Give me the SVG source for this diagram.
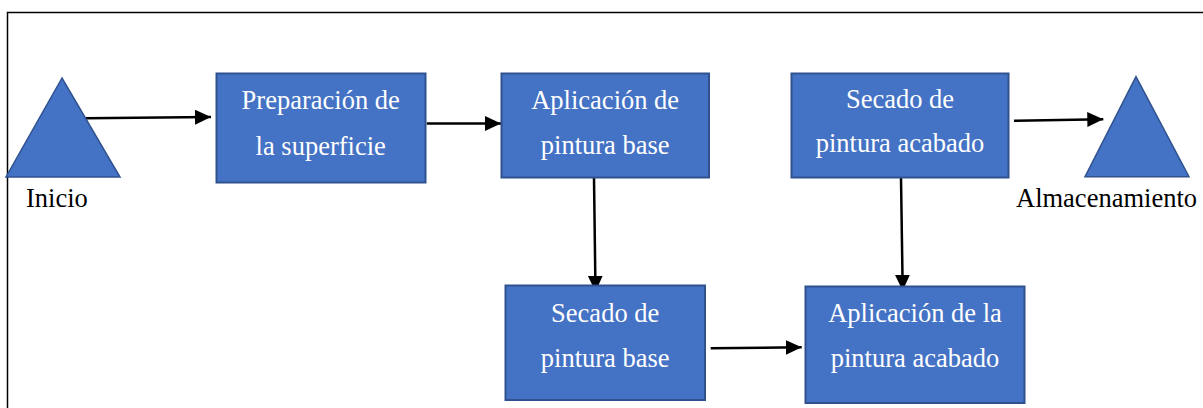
<svg xmlns="http://www.w3.org/2000/svg" width="1203" height="408" viewBox="0 0 1203 408">
  <style>
    .box { fill: #4472C4; stroke: #2F528F; stroke-width: 2; }
    .tri { fill: #4472C4; stroke: #2F528F; stroke-width: 1.5; stroke-linejoin: miter; }
    .lbl { font-family: "Liberation Serif", "Times New Roman", serif; font-size: 26.5px; fill: #ffffff; text-anchor: middle; }
    .cap { font-family: "Liberation Serif", "Times New Roman", serif; font-size: 26.5px; fill: #000000; }
    .arrow { stroke: #000000; stroke-width: 2.5; fill: none; marker-end: url(#head); }
  </style>
  <defs>
    <marker id="head" markerUnits="userSpaceOnUse" markerWidth="17" markerHeight="16" refX="16" refY="7.5" orient="auto">
      <path d="M0,0 L16,7.5 L0,15 Z" fill="#000000"/>
    </marker>
  </defs>

  <rect x="0" y="0" width="1203" height="408" fill="#ffffff"/>

  <!-- outer frame (continues past the right and bottom edges) -->
  <rect x="7.5" y="12.5" width="1210" height="420" fill="none" stroke="#000000" stroke-width="1.5"/>

  <g id="connectors">
    <line class="arrow" x1="86" y1="118.3" x2="211" y2="117"/>
    <line class="arrow" x1="426.7" y1="123.5" x2="501" y2="123.5"/>
    <line class="arrow" x1="594" y1="178" x2="595.5" y2="291.7"/>
    <line class="arrow" x1="710.7" y1="348.3" x2="801.7" y2="347.3"/>
    <line class="arrow" x1="901" y1="178" x2="902.7" y2="290.7"/>
    <line class="arrow" x1="1014" y1="120.7" x2="1103.3" y2="119.3"/>
  </g>

  <g id="inicio">
    <polygon class="tri" points="62,78 6,177 120,177"/>
    <text class="cap" x="26" y="206.7">Inicio</text>
  </g>

  <g id="preparacion">
    <rect class="box" x="216.5" y="73.5" width="209" height="109"/>
    <text class="lbl" x="320.7" y="109.3">Preparación de</text>
    <text class="lbl" x="320.7" y="155">la superficie</text>
  </g>

  <g id="aplicacion-base">
    <rect class="box" x="501.5" y="73.5" width="207.5" height="104"/>
    <text class="lbl" x="605.2" y="108.7">Aplicación de</text>
    <text class="lbl" x="605.2" y="154">pintura base</text>
  </g>

  <g id="secado-acabado">
    <rect class="box" x="791.5" y="73.5" width="217" height="104"/>
    <text class="lbl" x="900" y="108">Secado de</text>
    <text class="lbl" x="900" y="152">pintura acabado</text>
  </g>

  <g id="almacenamiento">
    <polygon class="tri" points="1136,76.7 1085,176.7 1189,176.7"/>
    <text class="cap" x="1016" y="206.7">Almacenamiento</text>
  </g>

  <g id="secado-base">
    <rect class="box" x="505.5" y="285.5" width="199.5" height="114.5"/>
    <text class="lbl" x="605.2" y="321.7">Secado de</text>
    <text class="lbl" x="605.2" y="366.7">pintura base</text>
  </g>

  <g id="aplicacion-acabado">
    <rect class="box" x="805.5" y="286.5" width="219" height="116.5"/>
    <text class="lbl" x="915" y="321.7">Aplicación de la</text>
    <text class="lbl" x="915" y="366.7">pintura acabado</text>
  </g>
</svg>
